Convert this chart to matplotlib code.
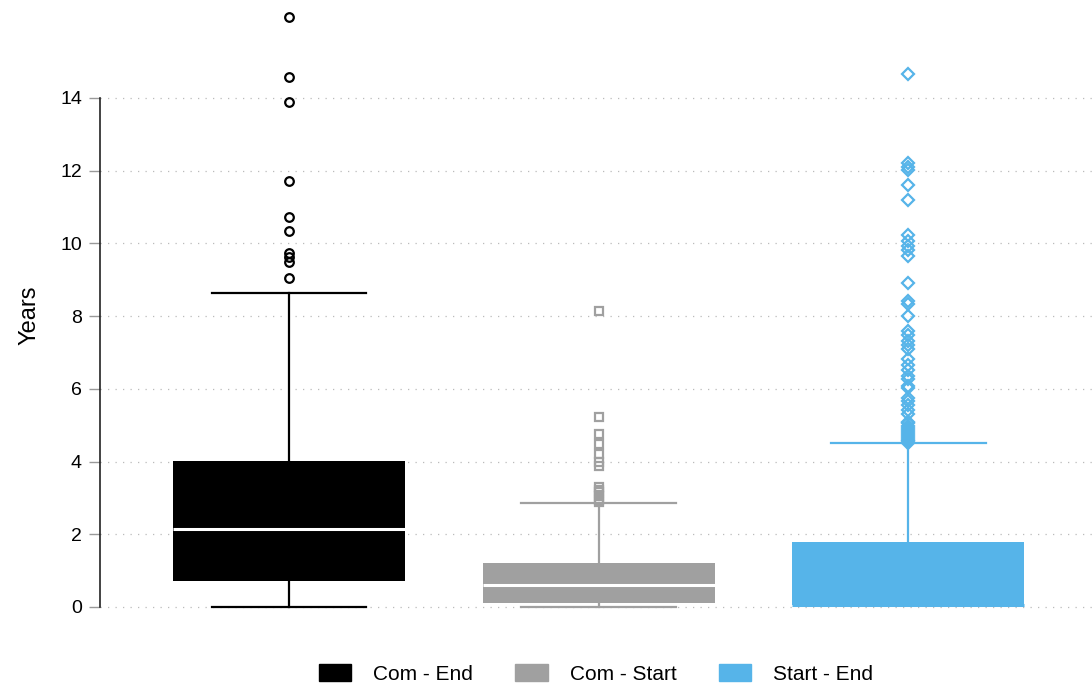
import matplotlib.pyplot as plt
from matplotlib.patches import Patch

plt.rcParams['font.family'] = ['Liberation Sans', 'DejaVu Sans']

# === data ===
groups = ["Com - End", "Com - Start", "Start - End"]
colors = ["#000000", "#a0a0a0", "#56b4e9"]
markers = ["o", "s", "D"]

q1 = [0.72, 0.11, 0.05]
med = [2.14, 0.60, 0.05]
q3 = [4.02, 1.21, 1.80]
whislo = [0.0, 0.0, 0.05]
whishi = [8.64, 2.85, 4.50]

fliers_com_end = [9.04, 9.50, 9.62, 9.74, 10.33, 10.72, 11.71, 13.90, 14.58, 16.22]
fliers_com_start = [2.88, 2.95, 3.05, 3.15, 3.22, 3.30, 3.89, 4.00, 4.22, 4.48, 4.76, 5.22, 8.14]
fliers_start_end = [4.52, 4.56, 4.60, 4.65, 4.70, 4.75, 4.80, 4.86, 4.92, 4.97, 5.05, 5.10,
                    5.32, 5.42, 5.55, 5.67, 5.74, 6.02, 6.07, 6.26, 6.36, 6.51, 6.66, 6.81,
                    7.09, 7.21, 7.31, 7.48, 7.58, 7.99, 8.34, 8.41, 8.91, 9.65, 9.83, 9.93,
                    10.06, 10.23, 11.19, 11.62, 12.02, 12.10, 12.20, 14.67]
fliers = [fliers_com_end, fliers_com_start, fliers_start_end]

# === figure ===
fig = plt.figure(figsize=(10.92, 6.88), dpi=100)
ax = fig.add_axes([100 / 1092, 68 / 688, 992 / 1092, 610 / 688])

for i in range(3):
    c = colors[i]
    stats = [dict(q1=q1[i], med=med[i], q3=q3[i], whislo=whislo[i],
                  whishi=whishi[i], fliers=fliers[i], label=groups[i])]
    med_col = "white" if i < 2 else c
    ax.bxp(stats, positions=[i + 1], widths=0.75, capwidths=0.5,
           patch_artist=True, manage_ticks=False,
           boxprops=dict(facecolor=c, edgecolor=c, linewidth=0),
           whiskerprops=dict(color=c, linewidth=1.6),
           capprops=dict(color=c, linewidth=1.6),
           medianprops=dict(color=med_col, linewidth=2.2),
           flierprops=dict(marker=markers[i], markerfacecolor="none",
                           markeredgecolor=c, markeredgewidth=1.6,
                           markersize=6.2 if i < 2 else 6.0))

ax.set_xlim(0.389, 3.594)
ax.set_ylim(-0.358, 16.42)
ax.set_yticks(range(0, 15, 2))
ax.set_xticks([])

ax.grid(axis="y", linestyle=(0, (1, 5)), color="#bbbbbb", linewidth=0.9)
ax.set_axisbelow(True)

for s in ["top", "right", "bottom"]:
    ax.spines[s].set_visible(False)
ax.spines["left"].set_bounds(0, 14)
ax.spines["left"].set_color("#222222")
ax.spines["left"].set_linewidth(1.2)
ax.tick_params(axis="y", length=8, width=1, color="#999999", labelsize=14, pad=5)

ax.set_ylabel("Years", fontsize=17, labelpad=14)

handles = [Patch(facecolor=c, edgecolor=c) for c in colors]
fig.legend(handles, groups, loc="center", bbox_to_anchor=(596 / 1092, 1 - 674 / 688),
           ncol=3, frameon=False, fontsize=15, handlelength=1.55, handleheight=0.9,
           handletextpad=1.05, columnspacing=2.05)

plt.savefig("out.png", dpi=100)
